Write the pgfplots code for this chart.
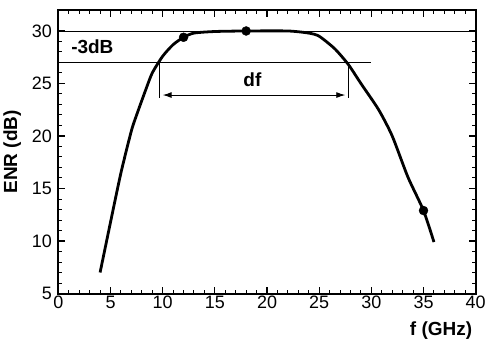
\documentclass[border=0pt]{standalone}
\usepackage{pgfplots}
\pgfplotsset{compat=1.18}
\usetikzlibrary{arrows.meta}
\usepackage{fontspec}
\setmainfont{Liberation Sans}
\begin{document}
\begin{tikzpicture}
\begin{axis}[
  scale only axis,
  width=418pt, height=284pt,
  xmin=0, xmax=40, ymin=5, ymax=32,
  xtick={0,5,...,40}, ytick={5,10,...,30},
  minor x tick num=4, minor y tick num=4,
  tick align=inside,
  major tick length=7pt, minor tick length=4pt,
  major tick style={black, line width=1.2pt},
  minor tick style={black, line width=1pt},
  axis line style={black, line width=2pt},
  /pgf/number format/assume math mode=true,
  tick label style={font=\fontsize{18}{20}\selectfont},
  xticklabel style={yshift=1pt},
  yticklabel style={xshift=-3pt},
  ylabel={\bfseries ENR (dB)},
  ylabel style={font=\fontsize{19}{21}\selectfont, yshift=4pt},
  xlabel={\bfseries f (GHz)},
  xlabel style={font=\fontsize{19}{21}\selectfont, at={(rel axis cs:1,0)}, anchor=north east, yshift=-25pt},
  clip=false,
]
\addplot[black, line width=2pt] coordinates {(0,5) (40,5) (40,32) (0,32) (0,5)};
\addplot[black, line width=0.9pt] coordinates {(0,30) (40,30)};
\addplot[black, line width=0.9pt] coordinates {(0,27) (30,27)};
\addplot[black, line width=0.9pt] coordinates {(9.7,27) (9.7,23.6)};
\addplot[black, line width=0.9pt] coordinates {(27.8,27) (27.8,23.6)};
\addplot[black, line width=0.9pt, {Latex[length=9pt,width=6pt]}-{Latex[length=9pt,width=6pt]}] coordinates {(10.0,23.9) (27.5,23.9)};
\addplot[black, line width=2.8pt, smooth, tension=0.4] coordinates {
 (4,7) (5,11.8) (6,16.5) (7,20.5) (7.5,22) (8.3,24.2) (9,26) (10,27.6) (11,28.7) (12,29.4) (13,29.8) (15,29.95) (18,30) (22,30) (24,29.8) (25,29.5) (26.5,28.3) (27.8,26.8) (29,25) (30.7,22.5) (32,20) (33.5,16.1) (35,12.9) (36,9.9)
};
\addplot[black, only marks, mark=*, mark size=4.5pt] coordinates {(12,29.4) (18,30) (35,12.9)};
\node[font=\fontsize{19}{21}\selectfont\bfseries, anchor=west] at (axis cs:0.9,28.5) {-3dB};
\node[font=\fontsize{19}{21}\selectfont\bfseries] at (axis cs:18.6,25.4) {df};
\end{axis}
\path (current axis.north) ++(0,10pt);
\end{tikzpicture}
\end{document}
